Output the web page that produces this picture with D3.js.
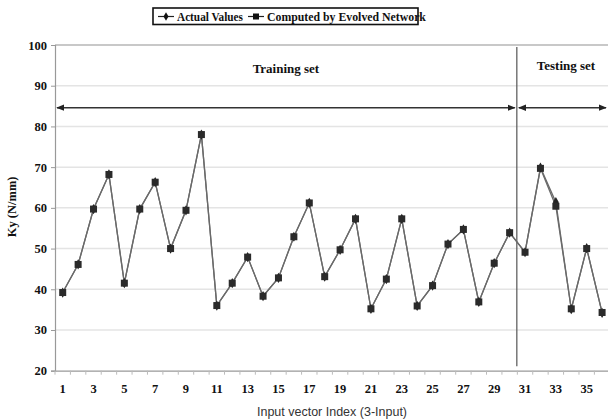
<!DOCTYPE html>
<html>
<head>
<meta charset="utf-8">
<script src="https://cdn.jsdelivr.net/npm/d3@7/dist/d3.min.js"></script>
<style>
  html, body { margin: 0; padding: 0; background: #fff; }
  svg { display: block; }
  .serif { font-family: "Liberation Serif", "Times New Roman", serif; font-weight: bold; fill: #111; }
</style>
</head>
<body>
<svg id="chart" width="608" height="419"></svg>
<script>
// Input vector indices (1..36); 1-30 training, 31-36 testing
const indices = d3.range(1, 37);
const actualValues = [39.2, 46.1, 59.7, 68.2, 41.5, 59.7, 66.3, 50.0, 59.4, 78.0,
                      36.0, 41.5, 47.9, 38.3, 42.8, 52.9, 61.2, 43.1, 49.7, 57.3,
                      35.2, 42.5, 57.3, 35.9, 40.9, 51.1, 54.7, 36.9, 46.4, 53.9,
                      49.1, 69.9, 61.4, 35.1, 50.1, 34.2];
const computedValues = [39.2, 46.1, 59.7, 68.2, 41.5, 59.7, 66.3, 50.0, 59.4, 78.0,
                        36.0, 41.5, 47.9, 38.3, 42.8, 52.9, 61.2, 43.1, 49.7, 57.3,
                        35.2, 42.5, 57.3, 35.9, 40.9, 51.1, 54.7, 36.9, 46.4, 53.9,
                        49.1, 69.7, 60.4, 35.2, 50.0, 34.3];
const yTicks = [20, 30, 40, 50, 60, 70, 80, 90, 100];
const xTickLabels = indices.filter(i => i % 2 === 1);
const seriesNames = ["Actual Values", "Computed by Evolved Network"];
const splitAfter = 30;      // last training index
const arrowLevel = 84.6;    // height of the range arrows

const svg = d3.select("#chart");
const mLeft = 55, mRight = 609.8, mTop = 45, mBottom = 370.7;

const x = d3.scaleBand().domain(indices).range([mLeft, mRight]).padding(0);
const y = d3.scaleLinear().domain([20, 100]).range([mBottom, mTop]);
const cx = i => x(i) + x.bandwidth() / 2;

// gridlines
svg.append("g")
  .selectAll("line").data(yTicks.filter(t => t > 20)).join("line")
  .attr("x1", mLeft).attr("x2", mRight)
  .attr("y1", d => y(d)).attr("y2", d => y(d))
  .attr("stroke", d => d === 100 ? "#c8c8c8" : "#e4e4e4")
  .attr("stroke-width", d => d === 100 ? 2 : 1.5);

// y axis
const yAxis = svg.append("g").attr("transform", `translate(${mLeft},0)`)
  .call(d3.axisLeft(y).tickValues(yTicks).tickSize(4).tickPadding(4));
yAxis.select(".domain").attr("stroke", "#999").attr("stroke-width", 1.2);
yAxis.selectAll(".tick line").attr("stroke", "#999");
yAxis.selectAll("text").attr("class", "serif").style("font-size", "12.5px");

// x axis: labels at odd indices, tick marks at category boundaries
const xAxis = svg.append("g").attr("transform", `translate(0,${mBottom})`)
  .call(d3.axisBottom(x).tickValues(xTickLabels).tickSize(0).tickPadding(13));
xAxis.select(".domain").attr("stroke", "#999").attr("stroke-width", 1.2);
xAxis.selectAll("text").attr("class", "serif").style("font-size", "12.5px");
svg.append("g").selectAll("line").data(indices).join("line")
  .attr("x1", d => x(d)).attr("x2", d => x(d))
  .attr("y1", mBottom).attr("y2", mBottom + 4)
  .attr("stroke", "#bbb");

// axis titles
svg.append("text").attr("class", "serif")
  .attr("transform", `translate(16,${(mTop + mBottom) / 2 - 1}) rotate(-90)`)
  .attr("text-anchor", "middle").style("font-size", "12.5px")
  .text("Ky (N/mm)");
svg.append("text")
  .attr("x", 332).attr("y", 416)
  .attr("text-anchor", "middle")
  .style("font-family", "'Liberation Sans', Arial, sans-serif")
  .style("font-size", "12.5px").attr("fill", "#333")
  .text("Input vector Index (3-Input)");

// split between training and testing
const splitX = x(splitAfter + 1) - 0.5;
svg.append("line")
  .attr("x1", splitX).attr("x2", splitX)
  .attr("y1", y(99.5)).attr("y2", y(21.1))
  .attr("stroke", "#555").attr("stroke-width", 1.2);

// range arrows
const defs = svg.append("defs");
defs.append("marker").attr("id", "head").attr("viewBox", "0 0 10 10")
  .attr("refX", 9).attr("refY", 5).attr("markerWidth", 5).attr("markerHeight", 5)
  .attr("orient", "auto-start-reverse")
  .append("path").attr("d", "M0,1 L10,5 L0,9 Z").attr("fill", "#222");
const ay = y(arrowLevel);
svg.append("line").attr("x1", x(1) + 2).attr("x2", splitX - 2)
  .attr("y1", ay).attr("y2", ay)
  .attr("stroke", "#333").attr("stroke-width", 1.6)
  .attr("marker-start", "url(#head)").attr("marker-end", "url(#head)");
svg.append("line").attr("x1", splitX + 2).attr("x2", 606)
  .attr("y1", ay).attr("y2", ay)
  .attr("stroke", "#333").attr("stroke-width", 1.6)
  .attr("marker-start", "url(#head)").attr("marker-end", "url(#head)");

svg.append("text").attr("class", "serif")
  .attr("x", (x(1) + splitX) / 2 + 0).attr("y", y(93.8) + 3)
  .attr("text-anchor", "middle").style("font-size", "13px").text("Training set");
svg.append("text").attr("class", "serif")
  .attr("x", 566).attr("y", y(94.7) + 3)
  .attr("text-anchor", "middle").style("font-size", "13px").text("Testing set");

// series lines and markers
const line = d3.line().x((d, i) => cx(indices[i])).y(d => y(d));
svg.append("path").datum(actualValues).attr("d", line)
  .attr("fill", "none").attr("stroke", "#6a6a6a").attr("stroke-width", 1.3);
svg.append("path").datum(computedValues).attr("d", line)
  .attr("fill", "none").attr("stroke", "#6a6a6a").attr("stroke-width", 1.3);

const diamond = d3.symbol().type(d3.symbolDiamond).size(30);
svg.append("g").selectAll("path").data(actualValues).join("path")
  .attr("d", diamond)
  .attr("transform", (d, i) => `translate(${cx(indices[i])},${y(d)})`)
  .attr("fill", "#222");
svg.append("g").selectAll("rect").data(computedValues).join("rect")
  .attr("x", (d, i) => cx(indices[i]) - 3.5).attr("y", d => y(d) - 3.5)
  .attr("width", 7).attr("height", 7)
  .attr("fill", "#2a2a2a");

// legend
const lg = svg.append("g");
lg.append("rect").attr("x", 153).attr("y", 8).attr("width", 265).attr("height", 16.5)
  .attr("fill", "#fff").attr("stroke", "#111").attr("stroke-width", 1.6);
lg.append("line").attr("x1", 158).attr("x2", 174).attr("y1", 16.5).attr("y2", 16.5)
  .attr("stroke", "#222").attr("stroke-width", 1.2);
lg.append("path").attr("d", d3.symbol().type(d3.symbolDiamond).size(22))
  .attr("transform", "translate(166,16.5)").attr("fill", "#111");
lg.append("text").attr("class", "serif").attr("x", 177).attr("y", 20.5)
  .style("font-size", "11.8px")
  .attr("textLength", 66).attr("lengthAdjust", "spacingAndGlyphs")
  .text(seriesNames[0]);
lg.append("line").attr("x1", 248).attr("x2", 264).attr("y1", 16.5).attr("y2", 16.5)
  .attr("stroke", "#222").attr("stroke-width", 1.2);
lg.append("rect").attr("x", 253).attr("y", 13.5).attr("width", 6).attr("height", 6)
  .attr("fill", "#111");
lg.append("text").attr("class", "serif").attr("x", 267).attr("y", 20.5)
  .style("font-size", "11.8px").text(seriesNames[1]);
</script>
</body>
</html>
